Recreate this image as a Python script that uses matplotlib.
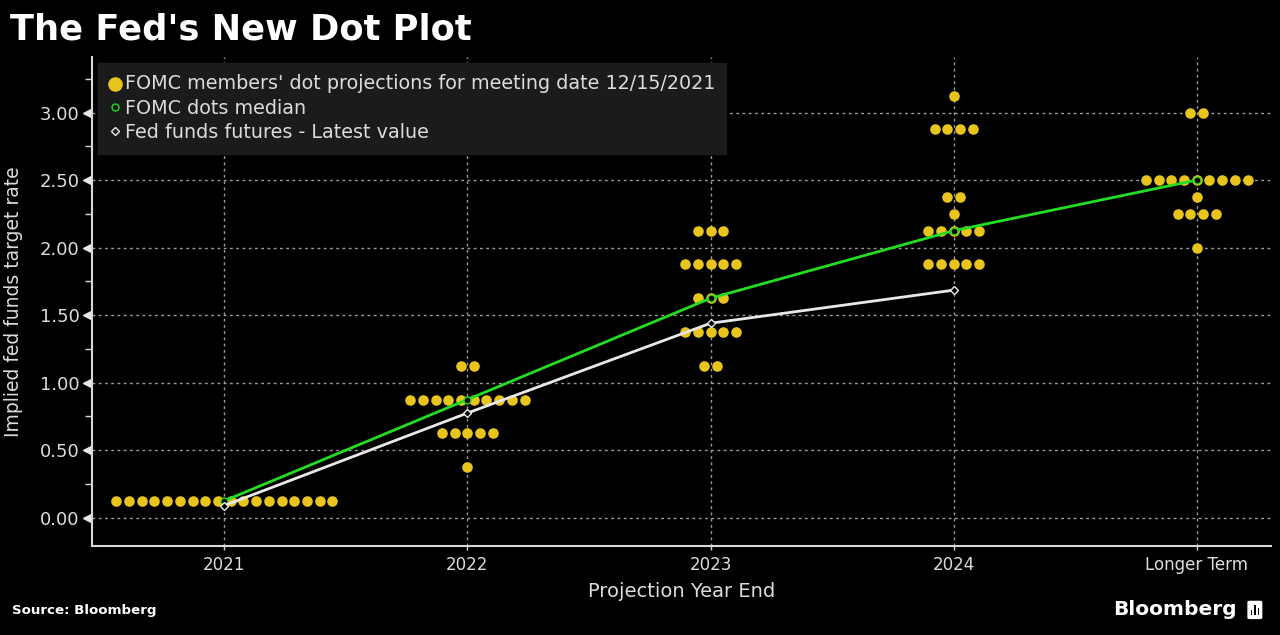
import numpy as np
import matplotlib.pyplot as plt
from matplotlib.patches import FancyBboxPatch, Rectangle

# ---- data ----
categories = ['2021', '2022', '2023', '2024', 'Longer Term']

# dot plot: (rate, number of members) per category
dots_2021 = [(0.125, 18)]
dots_2022 = [(1.125, 2), (0.875, 10), (0.625, 5), (0.375, 1)]
dots_2023 = [(2.125, 3), (1.875, 5), (1.625, 3), (1.375, 5), (1.125, 2)]
dots_2024 = [(3.125, 1), (2.875, 4), (2.375, 2), (2.25, 1), (2.125, 5), (1.875, 5)]
dots_longer = [(3.0, 2), (2.5, 9), (2.375, 1), (2.25, 4), (2.0, 1)]
dot_groups = [dots_2021, dots_2022, dots_2023, dots_2024, dots_longer]

median = [0.125, 0.875, 1.625, 2.125, 2.5]
futures = [0.09, 0.775, 1.44, 1.685]

yticks = [0.0, 0.5, 1.0, 1.5, 2.0, 2.5, 3.0]

YELLOW = '#e8c41c'
GREEN = '#22dd22'
WHITE = '#e8e8e8'
TXT = '#dcdcdc'

fig = plt.figure(figsize=(12.8, 6.35), dpi=100, facecolor='black')
ax = fig.add_axes([0.0719, 0.140, 0.921, 0.770], facecolor='black')

spacing = 0.0523
xs, ys = [], []
for i, grp in enumerate(dot_groups):
    for rate, n in grp:
        for k in range(n):
            xs.append(i + (k - (n - 1) / 2) * spacing)
            ys.append(rate)
ax.scatter(xs, ys, s=58, color=YELLOW, zorder=3, linewidths=0)

ax.plot(range(len(median)), median, color=GREEN, lw=2, zorder=4,
        marker='o', ms=5, mfc='black', mec=GREEN, mew=1)
ax.plot(range(len(futures)), futures, color=WHITE, lw=2, zorder=5,
        marker='D', ms=4, mfc='black', mec=WHITE, mew=1)

ax.set_xlim(-0.544, 4.305)
ax.set_ylim(-0.21, 3.41)
ax.set_xticks(range(len(categories)))
ax.set_xticklabels(categories)
ax.set_yticks(yticks)
ax.set_yticklabels(['%.2f' % v for v in yticks])
ax.set_yticks(np.arange(0.25, 3.3, 0.5), minor=True)

ax.grid(True, which='major', color='#9a9a9a', lw=1, linestyle=(0, (2, 2.5)))
for s in ['top', 'right']:
    ax.spines[s].set_visible(False)
for s in ['left', 'bottom']:
    ax.spines[s].set_color('#d8d8d8')
    ax.spines[s].set_linewidth(1.5)

ax.tick_params(axis='y', which='major', length=0, pad=9, labelsize=13, labelcolor=TXT)
ax.tick_params(axis='y', which='minor', length=5, width=1, color='#d8d8d8', direction='out')
ax.tick_params(axis='x', which='major', length=3, width=1, color='#d8d8d8', pad=4,
               labelsize=12, labelcolor=TXT)
# triangle markers on the major y ticks
ax.plot([-0.004] * len(yticks), yticks, linestyle='none', marker='<', ms=6,
        color='#e8e8e8', transform=ax.get_yaxis_transform(), clip_on=False)

ax.set_xlabel('Projection Year End', fontsize=14, color=TXT, labelpad=6)
ax.set_ylabel('Implied fed funds target rate', fontsize=13.5, color=TXT, labelpad=12)

h1 = ax.scatter([], [], s=110, color=YELLOW, linewidths=0)
h2 = ax.plot([], [], linestyle='none', marker='o', ms=5, mfc='none', mec=GREEN, mew=1)[0]
h3 = ax.plot([], [], linestyle='none', marker='D', ms=4, mfc='none', mec=WHITE, mew=1)[0]
leg = ax.legend([h1, h2, h3],
                ["FOMC members' dot projections for meeting date 12/15/2021",
                 'FOMC dots median', 'Fed funds futures - Latest value'],
                loc='upper left', bbox_to_anchor=(0.0, 1.0), borderaxespad=0.3,
                fontsize=13.8, frameon=True, fancybox=False, handlelength=0.6,
                handletextpad=0.2, labelspacing=0.28, borderpad=0.6, labelcolor=TXT)
leg.get_frame().set_facecolor('#1b1b1b')
leg.get_frame().set_edgecolor('#1b1b1b')
leg.get_frame().set_alpha(1)

fig.text(0.008, 0.953, "The Fed's New Dot Plot", fontsize=25.4, fontweight='bold',
         color='white', va='center', ha='left')
fig.text(0.009, 0.038, 'Source: Bloomberg', fontsize=9.6, fontweight='bold',
         color='white', va='center', ha='left')
fig.text(0.9665, 0.040, 'Bloomberg', fontsize=14.5, fontweight='bold',
         color='white', va='center', ha='right')

# small Bloomberg icon
ix, iy, iw, ih = 0.9745, 0.025, 0.0117, 0.029
fig.patches.append(FancyBboxPatch((ix, iy), iw, ih, boxstyle='round,pad=0,rounding_size=0.002',
                                  transform=fig.transFigure, facecolor='white', edgecolor='none'))
for j, bh in enumerate([0.009, 0.016, 0.012]):
    fig.patches.append(Rectangle((ix + 0.0025 + j * 0.0028, iy + 0.006), 0.0013, bh,
                                 transform=fig.transFigure, facecolor='black', edgecolor='none'))

fig.savefig('out.png', dpi=100, facecolor='black')
